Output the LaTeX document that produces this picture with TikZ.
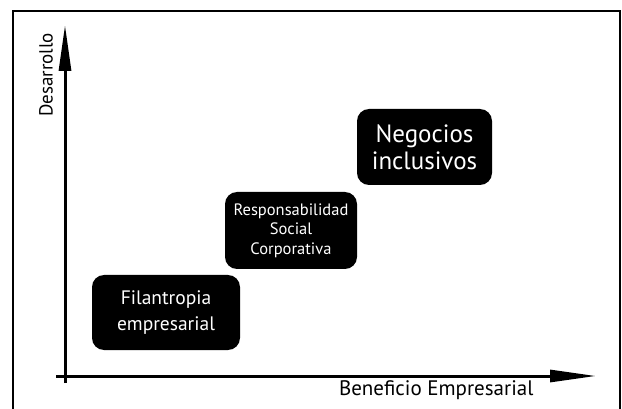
\documentclass[tikz,border=0pt]{standalone}
\usepackage{fontspec}
\setmainfont{PT Sans}
\usetikzlibrary{arrows.meta}
\begin{document}
\begin{tikzpicture}[x=1pt,y=-1pt,
  box/.style={rectangle, rounded corners=12pt, fill=black, text=white, align=center, inner sep=0pt},
  axis/.style={line width=3pt, -{Triangle[length=46pt,width=12pt]}}]
\useasboundingbox (0,0) rectangle (622,409);
\draw[line width=2pt] (13,420) -- (13,11) -- (620,11) -- (620,420);
\coordinate (yo) at (65,383);
\coordinate (xo) at (56,376);
\coordinate (ytop) at (65,25);
\coordinate (xend) at (596,376);
\draw[axis] (yo) -- (ytop);
\draw[axis] (xo) -- (xend);
\node[rotate=90, font=\fontsize{19}{22}\selectfont] (ylab) at (46,75) {Desarrollo};
\node[anchor=east, font=\fontsize{21}{24}\selectfont] (xlab) at (537,390) {Beneficio Empresarial};
\node[box, minimum width=148pt, minimum height=75pt, font=\fontsize{19.5}{26}\selectfont] (fil) at (166,312.5) {Filantropia\\empresarial};
\node[box, minimum width=132pt, minimum height=77pt, font=\fontsize{16.5}{19.5}\selectfont] (rsc) at (291,230.5) {Responsabilidad\\Social\\Corporativa};
\node[box, minimum width=135pt, minimum height=76pt, font=\fontsize{25}{27}\selectfont] (neg) at (424.5,147) {Negocios\\inclusivos};
\end{tikzpicture}
\end{document}
